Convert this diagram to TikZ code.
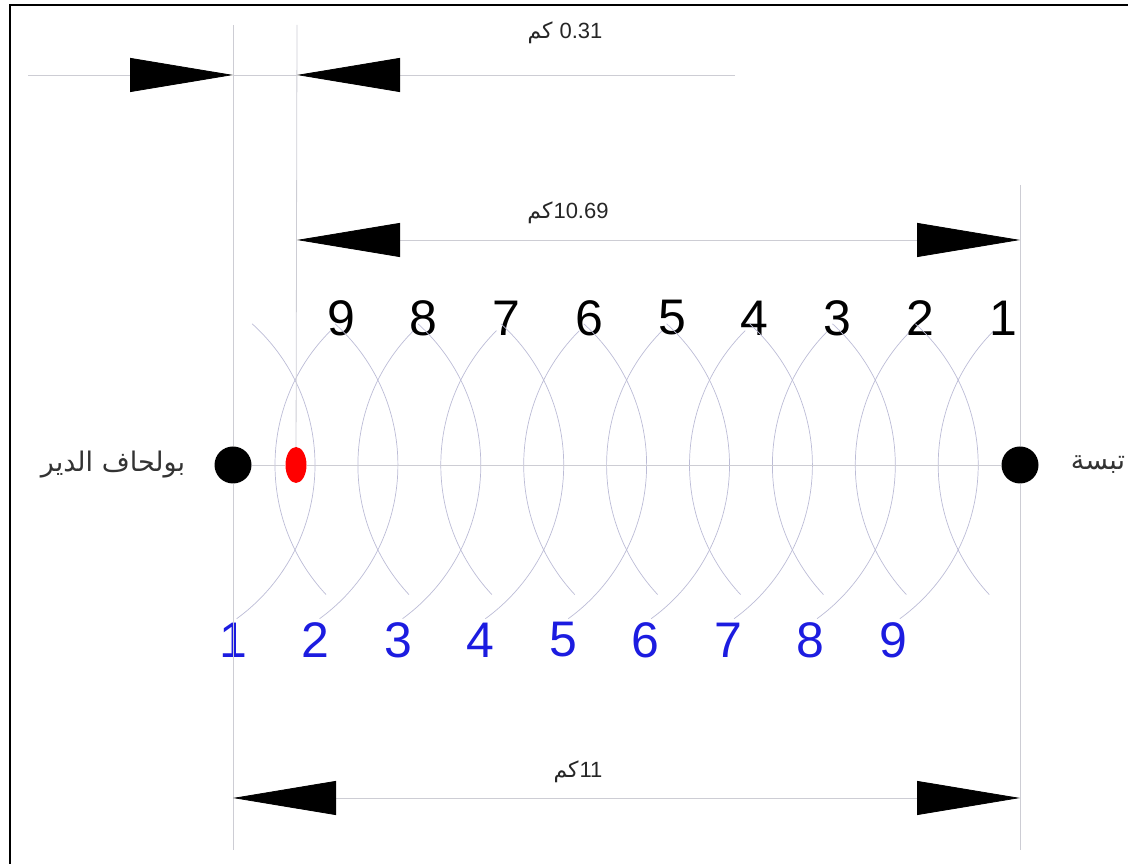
\documentclass[tikz,border=0pt]{standalone}
\usepackage{fontspec}
\setmainfont{Liberation Sans}
\newfontfamily\arabicfont[Script=Arabic]{DejaVu Sans}
\TeXXeTstate=1
\usetikzlibrary{arrows.meta,shapes.geometric}

\definecolor{guidegray}{RGB}{205,205,212}
\definecolor{wavegray}{RGB}{188,188,214}
\definecolor{numblue}{RGB}{28,28,224}

\begin{document}
\begin{tikzpicture}[x=1pt, y=1pt,
    guide/.style={draw=guidegray, line width=0.8pt},
    wave/.style={draw=wavegray, line width=0.7pt},
    dimtip/.tip={Triangle[length=103pt, width=34pt, color=black]},
    town/.style={circle, fill=black, minimum size=37pt, inner sep=0pt},
    topnum/.style={font=\fontsize{50}{50}\selectfont, text=black, inner sep=0pt},
    lownum/.style={font=\fontsize{50}{50}\selectfont, text=numblue, inner sep=0pt},
    dimlabel/.style={font=\fontsize{22}{22}\selectfont, text=black!85},
    place/.style={font=\arabicfont\fontsize{27}{27}\selectfont, text=black!80}]
    \useasboundingbox (0,0) rectangle (1128,864);
    \draw[line width=1.2pt] (10,-5) -- (10,859) -- (1135,859);

    % ---- the two towns and the point between them
    \node[town] (bd) at (233,399) {};
    \node[town] (tb) at (1020,399) {};
    \node[ellipse, fill=red, minimum width=21pt, minimum height=36pt, inner sep=0pt] (pt) at (296,399) {};
    \node[place] (bdname) at (113,399) {\beginR بولحاف الدير\endR};
    \node[place] (tbname) at (1098,399) {تبسة};

    % ---- circles cut from both ends
    \foreach \i in {0,...,8} {
      \pgfmathtruncatemacro{\k}{9-\i}
      \pgfmathtruncatemacro{\j}{\i+1}
      \draw[wave] ({275+82.9*\i+190},399) ++(135:190pt) arc[start angle=135, end angle=223, radius=190pt];
      \draw[wave] ({315+82.9*\i-190},399) ++(48:190pt) arc[start angle=48, end angle=-54, radius=190pt];
      \node[topnum] (top\k) at ({341+82.75*\i},546) {\k};
      \node[lownum] (low\j) at ({233+82.5*\i},224) {\j};
    }

    % ---- guide lines
    \coordinate (lt) at (233,839); \coordinate (lb) at (233,14);
    \coordinate (mt) at (297,839);
    \coordinate (rt) at (1020,679); \coordinate (rb) at (1020,14);
    \draw[guide] (lt) -- (bd); \draw[guide] (bd) -- (lb);
    \draw[guide] (mt) -- (pt);
    \draw[guide] (rt) -- (tb); \draw[guide] (tb) -- (rb);
    \draw[guide] (bd) -- (pt); \draw[guide] (pt) -- (tb);

    % ---- dimensions
    \coordinate (a0) at (28,789); \coordinate (a1) at (233,789);
    \coordinate (a2) at (297,789); \coordinate (a3) at (735,789);
    \draw[guide, -dimtip] (a0) -- (a1);
    \draw[guide] (a1) -- (a2);
    \draw[guide, -dimtip] (a3) -- (a2);
    \node[dimlabel] (da) at (565,831) {\arabicfont\beginR{\rmfamily 0.31} كم\endR};

    \coordinate (b0) at (297,624); \coordinate (b1) at (1020,624);
    \draw[guide, dimtip-dimtip] (b0) -- (b1);
    \node[dimlabel] (db) at (568,651) {\arabicfont\beginR{\rmfamily 10.69}\kern1pt كم\endR};

    \coordinate (c0) at (233,66); \coordinate (c1) at (1020,66);
    \draw[guide, dimtip-dimtip] (c0) -- (c1);
    \node[dimlabel] (dc) at (578,92) {\arabicfont\beginR{\rmfamily 11}\kern1pt كم\endR};
  \end{tikzpicture}
\end{document}
